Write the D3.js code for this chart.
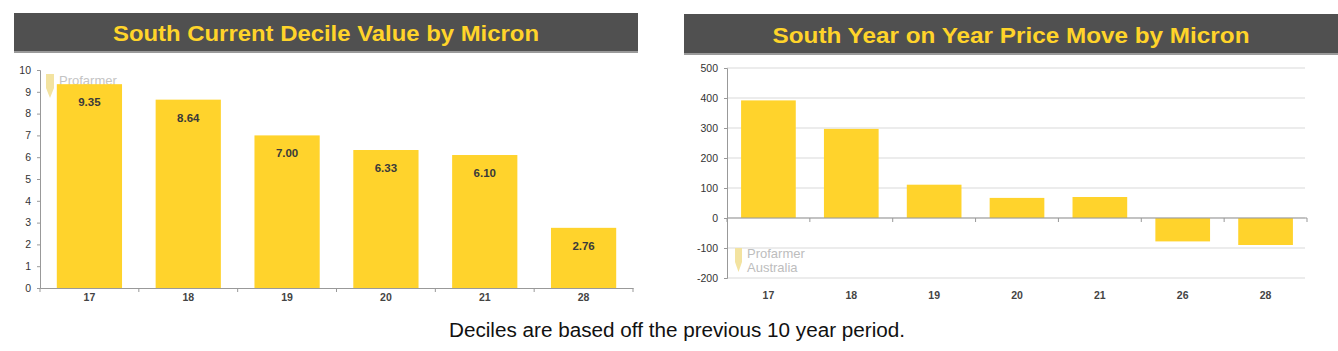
<!DOCTYPE html>
<html><head><meta charset="utf-8">
<script src="https://cdn.jsdelivr.net/npm/d3@7"></script>
<style>
body{margin:0;background:#fff;}
svg{display:block;font-family:"Liberation Sans",Arial,sans-serif;}
</style></head><body>
<svg id="c" width="1338" height="351"></svg>
<script>
const leftCategories = ["17","18","19","20","21","28"];
const leftValues = [9.35, 8.64, 7.00, 6.33, 6.10, 2.76];
const leftTicks = [0,1,2,3,4,5,6,7,8,9,10];
const rightCategories = ["17","18","19","20","21","26","28"];
const rightValues = [392, 297, 111, 67, 70, -78, -90];
const rightTicks = [-200,-100,0,100,200,300,400,500];
const leftTitle = "South Current Decile Value by Micron";
const rightTitle = "South Year on Year Price Move by Micron";
const footer = "Deciles are based off the previous 10 year period.";

const BAR = "#FFD32C", TITLEBG = "#505050", TITLEFG = "#FFD42A";
const svg = d3.select("#c");

function titleBar(x0, y0, w, h, text, tl){
  svg.append("rect").attr("x",x0).attr("y",y0).attr("width",w).attr("height",h).attr("fill",TITLEBG);
  svg.append("rect").attr("x",x0).attr("y",y0+h-2).attr("width",w).attr("height",2).attr("fill","#9a9a9a");
  svg.append("text").attr("x",x0+w/2).attr("y",y0+h/2+8).attr("text-anchor","middle")
    .attr("font-size",22).attr("font-weight","bold").attr("fill",TITLEFG)
    .attr("textLength",tl).attr("lengthAdjust","spacingAndGlyphs").text(text);
}
titleBar(14,13,624,40,leftTitle,426);
titleBar(684,14,654,41,rightTitle,477);

// Left chart
{
  const x = d3.scaleBand().domain(leftCategories).range([40,633]).paddingInner(0.34).paddingOuter(0.17);
  const y = d3.scaleLinear().domain([0,10]).range([288,70]);
  const g = svg.append("g");
  // watermark
  g.append("path").attr("d","M46,74 L54,74 L54,88 L50,98 L46,88 Z").attr("fill","#f3e3a0");
  g.append("text").attr("x",59).attr("y",85).attr("font-size",13).attr("fill","#c4c4c4").text("Profarmer");
  g.selectAll("rect.b").data(leftValues).join("rect").attr("class","b")
    .attr("x",(d,i)=>x(leftCategories[i])).attr("width",x.bandwidth())
    .attr("y",d=>y(d)).attr("height",d=>y(0)-y(d)).attr("fill",BAR);
  g.selectAll("text.v").data(leftValues).join("text").attr("class","v")
    .attr("x",(d,i)=>x(leftCategories[i])+x.bandwidth()/2).attr("y",d=>y(d)+22)
    .attr("text-anchor","middle").attr("font-size",11.5).attr("font-weight","bold").attr("fill","#3a3a3a").text(d=>d.toFixed(2));
  const ya = g.append("g").attr("transform","translate(40,0)")
    .call(d3.axisLeft(y).tickValues(leftTicks).tickSize(3).tickFormat(d=>String(d)));
  ya.select(".domain").attr("stroke","#999");
  ya.selectAll(".tick line").attr("stroke","#999");
  ya.selectAll("text").attr("font-size",10.5).attr("fill","#333").attr("x",-9);
  const xa = g.append("g").attr("transform","translate(0,288)")
    .call(d3.axisBottom(x).tickSize(0));
  xa.select(".domain").attr("stroke","#999");
  xa.selectAll("text").attr("font-size",10.5).attr("font-weight","bold").attr("fill","#444").attr("dy","0.95em").attr("y",3);
  const step = x.step();
  xa.selectAll(".sep").data(d3.range(leftCategories.length+1)).join("line").attr("class","sep")
    .attr("x1",i=>40+i*step).attr("x2",i=>40+i*step).attr("y1",0).attr("y2",4).attr("stroke","#999");
}

// Right chart
{
  const x = d3.scaleBand().domain(rightCategories).range([727,1307]).paddingInner(0.34).paddingOuter(0.17);
  const y = d3.scaleLinear().domain([-200,500]).range([278,68]);
  const g = svg.append("g");
  g.selectAll("line.grid").data(rightTicks).join("line").attr("class","grid")
    .attr("x1",727).attr("x2",1305).attr("y1",d=>y(d)).attr("y2",d=>y(d))
    .attr("stroke","#d9d9d9").attr("stroke-width",1);
  g.selectAll("rect.b").data(rightValues).join("rect").attr("class","b")
    .attr("x",(d,i)=>x(rightCategories[i])).attr("width",x.bandwidth())
    .attr("y",d=>y(Math.max(0,d))).attr("height",d=>Math.abs(y(d)-y(0))).attr("fill",BAR);
  // watermark
  g.append("path").attr("d","M735,248 L742,248 L742,262 L738.5,272 L735,262 Z").attr("fill","#f3e3a0");
  g.append("text").attr("x",747).attr("y",258).attr("font-size",13).attr("fill","#bdbdbd").text("Profarmer");
  g.append("text").attr("x",747).attr("y",272).attr("font-size",13).attr("fill","#bdbdbd").text("Australia");
  const ya = g.append("g").attr("transform","translate(727,0)")
    .call(d3.axisLeft(y).tickValues(rightTicks).tickSize(3).tickFormat(d=>String(d)));
  ya.select(".domain").attr("stroke","#999");
  ya.selectAll(".tick line").attr("stroke","#999");
  ya.selectAll("text").attr("font-size",10.5).attr("fill","#333").attr("x",-9);
  const xa = g.append("g").attr("transform","translate(0,"+y(0)+")");
  xa.append("line").attr("x1",727).attr("x2",1307).attr("y1",0).attr("y2",0).attr("stroke","#999");
  const step = x.step();
  xa.selectAll(".sep").data(d3.range(rightCategories.length+1)).join("line").attr("class","sep")
    .attr("x1",i=>727+i*step).attr("x2",i=>727+i*step).attr("y1",0).attr("y2",4).attr("stroke","#999");
  const xl = g.append("g").attr("transform","translate(0,278)").call(d3.axisBottom(x).tickSize(0));
  xl.select(".domain").remove();
  xl.selectAll("text").attr("font-size",10.5).attr("font-weight","bold").attr("fill","#444").attr("dy","0.95em").attr("y",11);
}

svg.append("text").attr("x",677).attr("y",337).attr("text-anchor","middle")
  .attr("font-size",19.5).attr("fill","#111").attr("textLength",456).attr("lengthAdjust","spacingAndGlyphs").text(footer);
</script>
</body></html>
